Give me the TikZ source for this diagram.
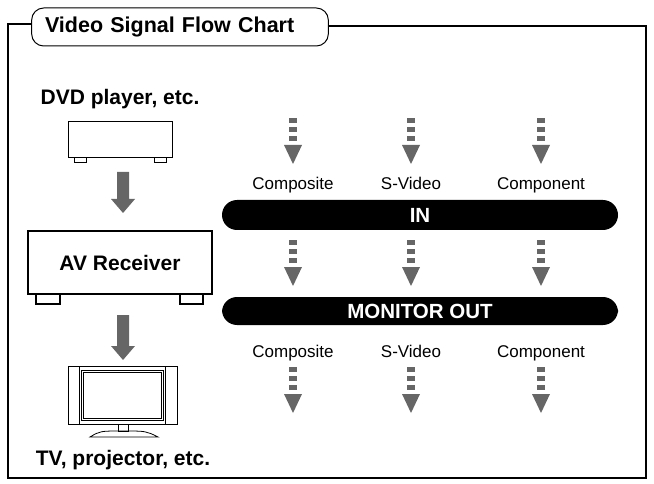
\documentclass[tikz,border=0pt]{standalone}
\usepackage{fontspec}
\setmainfont{Liberation Sans}
\begin{document}
\begin{tikzpicture}[x=1pt,y=-1pt,
  lbl/.style={font=\fontsize{17}{19}\selectfont,text height=12pt,text depth=3pt,inner sep=0pt},
  blbl/.style={font=\bfseries\fontsize{21}{23}\selectfont},
  dev/.style={draw,line width=1.3pt,fill=white},
  bar/.style={fill=black,rounded corners=15pt,text=white,font=\bfseries\fontsize{20.5}{22}\selectfont}]
\useasboundingbox (0,0) rectangle (654,484);
\newcommand{\dasharr}[2]{%
  \fill[black!60] (#1-4,#2) rectangle (#1+4,#2+5);
  \fill[black!60] (#1-4,#2+9) rectangle (#1+4,#2+14);
  \fill[black!60] (#1-4,#2+18) rectangle (#1+4,#2+23);
  \fill[black!60] (#1-9,#2+27) -- (#1+9,#2+27) -- (#1,#2+46) -- cycle;}
\newcommand{\bigarr}[3]{%
  \fill[black!60] (#1-6,#2) -- (#1+6,#2) -- (#1+6,#3-14) -- (#1+12,#3-14) -- (#1,#3) -- (#1-12,#3-14) -- (#1-6,#3-14) -- cycle;}
% frame
\draw[line width=1.2pt] (32,24) -- (8,24) -- (8,478) -- (646,478) -- (646,26) -- (328,26);
\node[draw,line width=1pt,rounded corners=12pt,fill=white,minimum width=296pt,minimum height=38pt,
  font=\bfseries\fontsize{21.5}{23}\selectfont,text width=290pt,align=left] (title) at (180,27) {\hspace{10pt}Video Signal Flow Chart};
% DVD
\node[blbl] (dvdlbl) at (120,99) {DVD player, etc.};
\draw[line width=1pt] (74,158) rectangle (86,163) (154,158) rectangle (166,163);
\draw[dev,line width=1pt] (68,122) rectangle (172,158);
\bigarr{123}{172}{213}
% AV
\draw[line width=1.3pt] (36,293) rectangle (60,304) (180,293) rectangle (203,304);
\draw[dev] (28,231) rectangle (212,294);
\node[blbl] (av) at (120,263) {AV Receiver};
\bigarr{123}{315}{360}
% TV
\draw[line width=0.8pt] (68,366) rectangle (177,424);
\draw[line width=0.8pt] (79,366) -- (79,424) (165,366) -- (165,424);
\draw[line width=0.8pt] (81,370) rectangle (163,420);
\draw[line width=0.8pt] (83,372) rectangle (161,418);
\draw[line width=0.8pt] (118,424) rectangle (128,431);
\draw[line width=0.8pt] (90,437) .. controls (100,431) .. (123,431) .. controls (146,431) .. (158,437) -- cycle;
\node[blbl] (tv) at (123,460) {TV, projector, etc.};
% bars
\node[bar,minimum width=396pt,minimum height=30pt] (in) at (420,215) {IN};
\node[bar,minimum width=396pt,minimum height=28pt] (mon) at (420,311) {MONITOR OUT};
\foreach \x/\t in {293/Composite,411/S-Video,541/Component}{
  \dasharr{\x}{118}
  \dasharr{\x}{240}
  \dasharr{\x}{367}
  \node[lbl] at (\x,185) {\t};
  \node[lbl] at (\x,353) {\t};
}
\end{tikzpicture}
\end{document}
